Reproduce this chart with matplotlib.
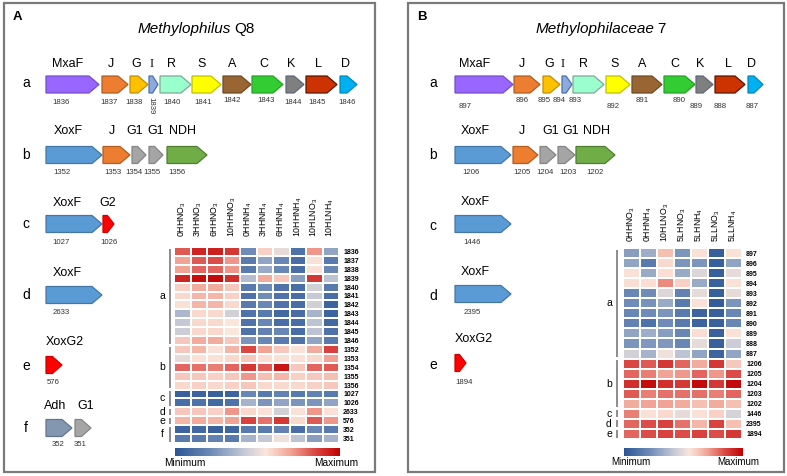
import numpy as np
import matplotlib
matplotlib.use("Agg")
import matplotlib.pyplot as plt
from matplotlib.patches import Polygon, Rectangle
from matplotlib.colors import LinearSegmentedColormap

plt.rcParams['font.family'] = ['Liberation Sans', 'DejaVu Sans']

W, H = 787, 476

# ---------------- data ----------------
gene_colors = {
    'MxaF': ('#9966FF', '#7350c8'), 'J': ('#ED7D31', '#b25d22'), 'G': ('#FFC000', '#c09000'),
    'I': ('#8EA9DB', '#4a6fb0'), 'R': ('#99FFCC', '#7fa898'), 'S': ('#FFFF00', '#c0c000'),
    'A': ('#996633', '#6e4a25'), 'C': ('#33CC33', '#27a027'), 'K': ('#7F7F7F', '#5d6a80'),
    'L': ('#CC3300', '#5a1600'), 'D': ('#00B0F0', '#0088bb'), 'XoxF': ('#5B9BD5', '#4577a6'),
    'G1': ('#A5A5A5', '#858585'), 'NDH': ('#70AD47', '#4f7e31'), 'G2': ('#FF0000', '#d00000'),
    'XoxG2': ('#FF0000', '#d00000'), 'Adh': ('#8497B0', '#63758c'),
}

# Panel A clusters: gene names and locus tags
A_a_genes = ['MxaF', 'J', 'G', 'I', 'R', 'S', 'A', 'C', 'K', 'L', 'D']
A_a_loci = ['1836', '1837', '1838', '1839', '1840', '1841', '1842', '1843', '1844', '1845', '1846']
A_b_genes = ['XoxF', 'J', 'G1', 'G1', 'NDH']
A_b_loci = ['1352', '1353', '1354', '1355', '1356']
A_c_genes = ['XoxF', 'G2']
A_c_loci = ['1027', '1026']
A_d_genes = ['XoxF']
A_d_loci = ['2633']
A_e_genes = ['XoxG2']
A_e_loci = ['576']
A_f_genes = ['Adh', 'G1']
A_f_loci = ['352', '351']

# Panel B clusters
B_a_genes = ['MxaF', 'J', 'G', 'I', 'R', 'S', 'A', 'C', 'K', 'L', 'D']
B_a_loci = ['897', '896', '895', '894', '893', '892', '891', '890', '889', '888', '887']
B_b_genes = ['XoxF', 'J', 'G1', 'G1', 'NDH']
B_b_loci = ['1206', '1205', '1204', '1203', '1202']
B_c_genes = ['XoxF']
B_c_loci = ['1446']
B_d_genes = ['XoxF']
B_d_loci = ['2395']
B_e_genes = ['XoxG2']
B_e_loci = ['1894']

# Heatmap A
A_conditions = ['0HHNO3', '3HHNO3', '6HHNO3', '10HHNO3', '0HHNH4', '3HHNH4', '6HHNH4',
                '10HHNH4', '10HLNO3', '10HLNH4']
A_hm_rows = A_a_loci + A_b_loci + A_c_loci + A_d_loci + A_e_loci + A_f_loci
A_hm_groups = ['a'] * 11 + ['b'] * 5 + ['c'] * 2 + ['d'] + ['e'] + ['f'] * 2
A_values = [
    [0.82, 0.92, 0.93, 0.88, 0.22, 0.60, 0.50, 0.12, 0.72, 0.30],
    [0.70, 0.82, 0.84, 0.72, 0.15, 0.30, 0.20, 0.10, 0.56, 0.15],
    [0.70, 0.80, 0.80, 0.72, 0.15, 0.32, 0.20, 0.10, 0.56, 0.20],
    [0.92, 0.97, 0.98, 0.90, 0.38, 0.68, 0.62, 0.28, 0.88, 0.40],
    [0.60, 0.68, 0.68, 0.62, 0.15, 0.22, 0.12, 0.10, 0.45, 0.15],
    [0.58, 0.66, 0.66, 0.60, 0.12, 0.22, 0.12, 0.10, 0.42, 0.10],
    [0.56, 0.66, 0.66, 0.58, 0.15, 0.20, 0.12, 0.10, 0.45, 0.06],
    [0.36, 0.58, 0.58, 0.45, 0.12, 0.15, 0.08, 0.10, 0.35, 0.06],
    [0.42, 0.58, 0.58, 0.55, 0.12, 0.20, 0.10, 0.10, 0.40, 0.08],
    [0.44, 0.58, 0.58, 0.55, 0.12, 0.18, 0.20, 0.10, 0.40, 0.12],
    [0.62, 0.68, 0.68, 0.62, 0.25, 0.20, 0.15, 0.12, 0.30, 0.15],
    [0.62, 0.66, 0.56, 0.66, 0.85, 0.70, 0.62, 0.56, 0.68, 0.86],
    [0.50, 0.56, 0.56, 0.58, 0.62, 0.57, 0.56, 0.56, 0.58, 0.70],
    [0.80, 0.78, 0.76, 0.80, 0.88, 0.82, 0.95, 0.62, 0.80, 0.82],
    [0.62, 0.62, 0.60, 0.62, 0.72, 0.64, 0.66, 0.60, 0.62, 0.64],
    [0.58, 0.60, 0.58, 0.60, 0.62, 0.58, 0.58, 0.58, 0.60, 0.62],
    [0.05, 0.06, 0.05, 0.06, 0.20, 0.15, 0.18, 0.15, 0.18, 0.15],
    [0.10, 0.12, 0.08, 0.12, 0.35, 0.25, 0.30, 0.25, 0.25, 0.30],
    [0.62, 0.62, 0.60, 0.72, 0.58, 0.56, 0.45, 0.56, 0.72, 0.56],
    [0.66, 0.68, 0.66, 0.70, 0.86, 0.78, 0.88, 0.58, 0.82, 0.72],
    [0.06, 0.08, 0.05, 0.07, 0.15, 0.15, 0.18, 0.10, 0.20, 0.15],
    [0.15, 0.15, 0.18, 0.15, 0.35, 0.42, 0.52, 0.40, 0.28, 0.35],
]

# Heatmap B
B_conditions = ['0HHNO3', '0HHNH4', '10HLNO3', '5LHNO3', '5LHNH4', '5LLNO3', '5LLNH4']
B_hm_rows = B_a_loci + B_b_loci + B_c_loci + B_d_loci + B_e_loci
B_hm_groups = ['a'] * 11 + ['b'] * 5 + ['c'] + ['d'] + ['e']
B_values = [
    [0.28, 0.33, 0.64, 0.25, 0.56, 0.04, 0.56],
    [0.30, 0.15, 0.58, 0.25, 0.25, 0.04, 0.30],
    [0.56, 0.32, 0.57, 0.32, 0.48, 0.04, 0.50],
    [0.57, 0.57, 0.74, 0.60, 0.32, 0.05, 0.56],
    [0.20, 0.22, 0.48, 0.18, 0.50, 0.04, 0.50],
    [0.22, 0.24, 0.32, 0.15, 0.56, 0.03, 0.25],
    [0.20, 0.22, 0.25, 0.15, 0.06, 0.04, 0.20],
    [0.18, 0.12, 0.22, 0.15, 0.06, 0.05, 0.20],
    [0.30, 0.33, 0.28, 0.20, 0.57, 0.05, 0.56],
    [0.25, 0.26, 0.26, 0.20, 0.50, 0.05, 0.44],
    [0.45, 0.35, 0.52, 0.40, 0.30, 0.06, 0.30],
    [0.85, 0.82, 0.88, 0.80, 0.68, 0.88, 0.62],
    [0.80, 0.76, 0.70, 0.72, 0.80, 0.72, 0.84],
    [0.90, 0.97, 0.90, 0.88, 0.98, 0.88, 0.98],
    [0.82, 0.76, 0.78, 0.78, 0.78, 0.76, 0.80],
    [0.68, 0.70, 0.70, 0.68, 0.64, 0.68, 0.64],
    [0.76, 0.56, 0.58, 0.50, 0.56, 0.60, 0.46],
    [0.80, 0.84, 0.86, 0.78, 0.66, 0.86, 0.64],
    [0.80, 0.84, 0.86, 0.84, 0.86, 0.84, 0.88],
]

# ---------------- layout ----------------
cmap = LinearSegmentedColormap.from_list('minmax', [
    (0.00, '#2b5595'), (0.22, '#6f8cb8'), (0.42, '#c5c9d6'),
    (0.55, '#fbe6dc'), (0.70, '#f1a496'), (0.85, '#da4743'), (1.00, '#c00000')])

fig = plt.figure(figsize=(W / 100, H / 100), dpi=100)
ax = fig.add_axes([0, 0, 1, 1])
ax.set_xlim(0, W)
ax.set_ylim(H, 0)
ax.axis('off')


def px_axes(x0, y0, x1, y1):
    return fig.add_axes([x0 / W, 1 - y1 / H, (x1 - x0) / W, (y1 - y0) / H])


# panel frames
for (x0, y0, x1, y1) in [(4, 3, 375, 472), (408, 3, 784, 472)]:
    ax.add_patch(Rectangle((x0, y0), x1 - x0, y1 - y0, fill=False, ec='#7a7a7a', lw=1.6))
ax.text(13, 17, 'A', fontsize=9.5, fontweight='bold', ha='left', va='center')
ax.text(417, 17, 'B', fontsize=9.5, fontweight='bold', ha='left', va='center')
ax.text(231, 29, 'Methylophilus', fontsize=11, style='italic', ha='right', va='center')
ax.text(234, 29, 'Q8', fontsize=11, ha='left', va='center')
ax.text(654, 29, 'Methylophilaceae', fontsize=11, style='italic', ha='right', va='center')
ax.text(657, 29, '7', fontsize=11, ha='left', va='center')

AH = 17  # arrow height


def draw_arrow(x0, x1, yc, name):
    w = x1 - x0
    head = min(10, 0.6 * w)
    pts = [(x0, yc - AH / 2), (x1 - head, yc - AH / 2), (x1, yc),
           (x1 - head, yc + AH / 2), (x0, yc + AH / 2)]
    fc, ec = gene_colors[name]
    ax.add_patch(Polygon(pts, closed=True, fc=fc, ec=ec, lw=0.9, joinstyle='miter'))


def draw_cluster(genes, loci, extents, name_x, name_y, yc, locus_x, locus_y,
                 name_ha='center', rot_locus=()):
    for i, g in enumerate(genes):
        draw_arrow(extents[i][0], extents[i][1], yc, g)
        fam = ['Liberation Serif'] if g == 'I' else ['Liberation Sans']
        ax.text(name_x[i], name_y, g, fontsize=9, ha=name_ha, va='center', family=fam)
        ly = locus_y[i] if isinstance(locus_y, (list, tuple)) else locus_y
        if i in rot_locus:
            ax.text(locus_x[i], ly, loci[i], fontsize=5.6, rotation=-90, ha='center',
                    va='center', color='#333333')
        else:
            ax.text(locus_x[i], ly, loci[i], fontsize=5.6, ha='center', va='center',
                    color='#333333')


# Panel A gene maps
draw_cluster(A_a_genes, A_a_loci,
             [(46, 99), (102, 128), (130, 148), (149, 158), (160, 191), (192, 221),
              (223, 251), (252, 283), (286, 304), (306, 337), (340, 357)],
             [68, 111, 136, 152, 172, 202, 232, 264, 291, 318, 346], 64, 84.5,
             [61, 109, 134, 151, 172, 203, 232, 266, 293, 317, 347],
             [103, 103, 103, 106, 103, 102, 100, 100, 103, 102, 103], rot_locus=(3,))
draw_cluster(A_b_genes, A_b_loci,
             [(46, 102), (103, 130), (132, 146), (149, 163), (167, 207)],
             [68, 112, 135, 156, 183], 131, 155, [62, 113, 134, 152, 177], 172)
draw_cluster(A_c_genes, A_c_loci, [(46, 102), (103, 114)], [67, 108], 203, 224,
             [61, 109], 243)
draw_cluster(A_d_genes, A_d_loci, [(46, 102)], [67], 273, 295, [61], 313)
draw_cluster(A_e_genes, A_e_loci, [(46, 62)], [46], 342, 365, [53], 383, name_ha='left')
draw_cluster(A_f_genes, A_f_loci, [(46, 72), (75, 91)], [55, 86], 406, 428, [58, 80], 444)
for lab, y in zip('abcdef', [83, 155, 224, 295, 366, 428]):
    ax.text(26, y, lab, fontsize=10, ha='center', va='center')

# Panel B gene maps
draw_cluster(B_a_genes, B_a_loci,
             [(455, 513), (514, 540), (543, 560), (562, 572), (573, 604), (606, 630),
              (632, 662), (664, 695), (696, 713), (715, 745), (748, 763)],
             [475, 522, 549, 563, 584, 615, 642, 675, 700, 728, 752], 64, 84.5,
             [465, 522, 544, 559, 575, 613, 642, 679, 696, 720, 752],
             [106, 100, 101, 101, 101, 106, 100, 100, 106, 106, 106])
draw_cluster(B_b_genes, B_b_loci,
             [(455, 511), (513, 538), (540, 556), (558, 575), (576, 615)],
             [475, 522, 551, 571, 597], 131, 155, [471, 522, 545, 568, 595], 173)
draw_cluster(B_c_genes, B_c_loci, [(455, 511)], [475], 202, 224, [472], 242)
draw_cluster(B_d_genes, B_d_loci, [(455, 511)], [475], 272, 294, [472], 312)
draw_cluster(B_e_genes, B_e_loci, [(455, 466)], [455], 339, 363, [464], 382, name_ha='left')
for lab, y in zip('abcde', [83, 155, 226, 296, 365]):
    ax.text(433, y, lab, fontsize=10, ha='center', va='center')


def cond_label(c):
    return c[:-1] + r'$\mathregular{_' + c[-1] + '}$'


def draw_heatmap(values, conds, rows, groups, box, pad, grp_x, line_x, cbar_y):
    x0, y0, x1, y1 = box
    hm = px_axes(x0, y0, x1, y1)
    data = np.array(values)
    nr, nc = data.shape
    mesh = hm.pcolormesh(data, cmap=cmap, vmin=0, vmax=1, edgecolors='white', linewidth=1.1)
    hm.set_xlim(0, nc)
    hm.set_ylim(nr, 0)
    for s in hm.spines.values():
        s.set_visible(False)
    hm.xaxis.tick_top()
    hm.set_xticks(np.arange(nc) + 0.5)
    hm.set_xticklabels([cond_label(c) for c in conds], rotation=90, fontsize=6.3)
    hm.yaxis.tick_right()
    hm.set_yticks(np.arange(nr) + 0.5)
    hm.set_yticklabels(rows, fontsize=5, fontweight='bold')
    hm.tick_params(axis='x', length=0, pad=pad)
    hm.tick_params(axis='y', length=0, pad=3)
    # group brackets
    rh = (y1 - y0) / nr
    start = 0
    for i in range(1, nr + 1):
        if i == nr or groups[i] != groups[start]:
            ta = y0 + start * rh + 1.5
            tb = y0 + i * rh - 1.5
            ax.plot([line_x, line_x], [ta, tb], color='#8c8c8c', lw=1.4,
                    solid_capstyle='butt')
            ax.text(grp_x, (ta + tb) / 2, groups[start], fontsize=7.5, ha='center',
                    va='center')
            start = i
    # colorbar
    cax = px_axes(x0 + 1, cbar_y, x1 + 1, cbar_y + 7.5)
    cb = fig.colorbar(mesh, cax=cax, orientation='horizontal')
    cb.set_ticks([])
    cb.outline.set_visible(False)
    return hm


draw_heatmap(A_values, A_conditions, A_hm_rows, A_hm_groups, (174, 247, 339, 443),
             7, 162, 170, 448)
ax.text(185, 463, 'Minimum', fontsize=7.3, ha='center', va='center')
ax.text(336, 463, 'Maximum', fontsize=7.3, ha='center', va='center')

draw_heatmap(B_values, B_conditions, B_hm_rows, B_hm_groups, (623, 248, 742, 439),
             4.5, 609, 617, 448)
ax.text(631, 462, 'Minimum', fontsize=7, ha='center', va='center')
ax.text(738, 462, 'Maximum', fontsize=7, ha='center', va='center')

fig.savefig('out.png', dpi=100, facecolor='white')
